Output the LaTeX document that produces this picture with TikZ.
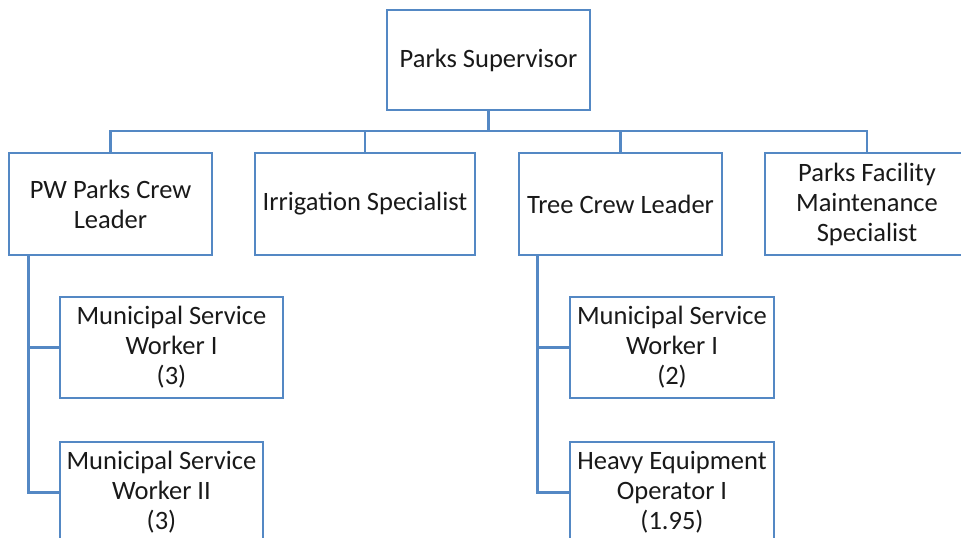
\documentclass[tikz,border=0pt]{standalone}
\usepackage{fontspec}
\setmainfont{Carlito}
\definecolor{boxblue}{RGB}{84,136,196}
\begin{document}
\begin{tikzpicture}[x=1pt,y=1pt,
  box/.style={draw=boxblue, line width=2.6pt, align=center, inner sep=0pt,
    font=\fontsize{26.5}{30}\selectfont, text=black!90},
  conn/.style={draw=boxblue, line width=2.6pt}]
\useasboundingbox (0,0) rectangle (961,-538);
\clip (0,0) rectangle (961,-538);
% level 1
\node[box, minimum width=203, minimum height=100] (sup) at (488.5,-60) {Parks Supervisor};
% level 2
\node[box, minimum width=203, minimum height=102] (pw) at (110.5,-204) {PW Parks Crew\\Leader};
\node[box, minimum width=220, minimum height=102] (irr) at (365,-204) {Irrigation Specialist};
\node[box, minimum width=203, minimum height=102] (tree) at (620.5,-204) {Tree Crew Leader};
\node[box, minimum width=204, minimum height=102] (fac) at (867,-204) {Parks Facility\\Maintenance\\Specialist};
% level 3
\node[box, minimum width=223, minimum height=101] (msw1) at (171.5,-347.5) {Municipal Service\\Worker I\\(3)};
\node[box, minimum width=203, minimum height=101] (msw2) at (161.5,-492.5) {Municipal Service\\Worker II\\(3)};
\node[box, minimum width=204, minimum height=101] (mswb) at (672,-347.5) {Municipal Service\\Worker I\\(2)};
\node[box, minimum width=204, minimum height=101] (heo) at (672,-492.5) {Heavy Equipment\\Operator I\\(1.95)};
% connectors
\coordinate (bus) at (0,-131);
\draw[conn] (sup.south) -- (sup.south |- bus);
\draw[conn] (pw.north) -- (pw.north |- bus) -- (fac.north |- bus) -- (fac.north);
\draw[conn] (irr.north) -- (irr.north |- bus);
\draw[conn] (tree.north) -- (tree.north |- bus);
\coordinate (pwl) at ([xshift=21pt]pw.south west);
\draw[conn] (pwl) |- (msw1.west);
\draw[conn] (pwl) |- (msw2.west);
\coordinate (trl) at ([xshift=20pt]tree.south west);
\draw[conn] (trl) |- (mswb.west);
\draw[conn] (trl) |- (heo.west);
\end{tikzpicture}
\end{document}
